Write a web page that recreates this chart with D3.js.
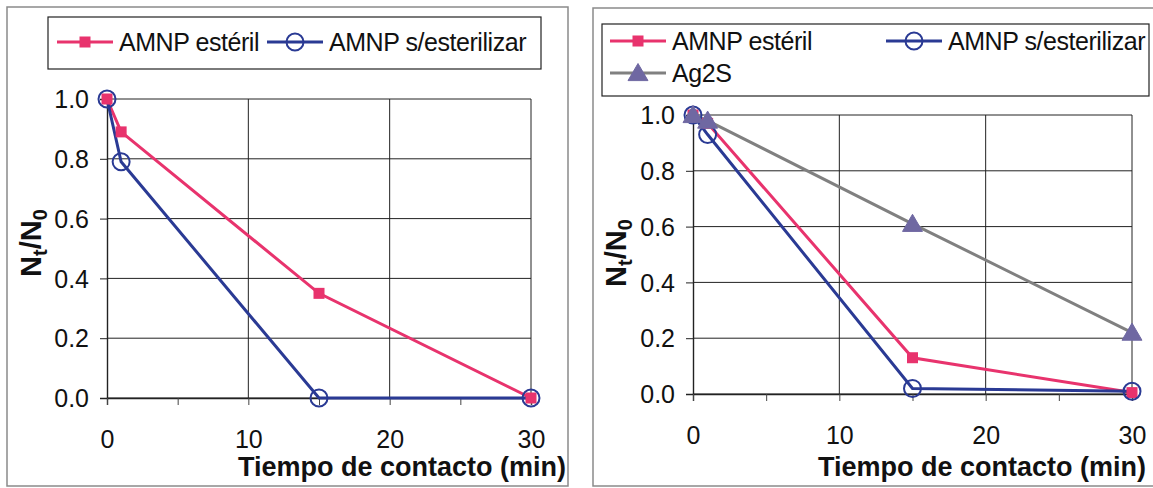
<!DOCTYPE html>
<html>
<head>
<meta charset="utf-8">
<script src="https://cdn.jsdelivr.net/npm/d3@7/dist/d3.min.js"></script>
<style>
  html, body { margin: 0; padding: 0; background: #fff; }
  svg { display: block; }
  text { font-family: "Liberation Sans", Arial, sans-serif; fill: #111; }
</style>
</head>
<body>
<svg id="chart" width="1153" height="488"></svg>
<script>
// Contact time (min)
const times = [0, 1, 15, 30];

// Left panel: survival ratio Nt/N0
const leftEsteril = [1.0, 0.89, 0.35, 0.0];
const leftSinEsterilizar = [1.0, 0.79, 0.0, 0.0];

// Right panel: survival ratio Nt/N0
const rightEsteril = [1.0, 0.97, 0.13, 0.005];
const rightSinEsterilizar = [1.0, 0.93, 0.02, 0.01];
const rightAg2S = [1.0, 0.98, 0.61, 0.22];

// Axis ticks
const yTicks = [0, 0.2, 0.4, 0.6, 0.8, 1.0];
const xTicks = [0, 10, 20, 30];
const xMinorTicks = [0, 5, 10, 15, 20, 25, 30];

const seriesNames = ["AMNP estéril", "AMNP s/esterilizar", "Ag2S"];
const xTitle = "Tiempo de contacto (min)";

const styles = {
  "AMNP estéril": { color: "#e8336d", marker: "square" },
  "AMNP s/esterilizar": { color: "#2a3a94", marker: "circle" },
  "Ag2S": { color: "#808080", marker: "triangle", fill: "#6f68a2" }
};

const svg = d3.select("#chart");

function drawMarker(g, type, x, y, st) {
  if (type === "square") {
    g.append("rect").attr("x", x - 5.5).attr("y", y - 5.5).attr("width", 11).attr("height", 11)
      .attr("fill", st.color);
  } else if (type === "circle") {
    g.append("circle").attr("cx", x).attr("cy", y).attr("r", 8.5)
      .attr("fill", "none").attr("stroke", st.color).attr("stroke-width", 2);
  } else if (type === "triangle") {
    const s = 9.5;
    g.append("path")
      .attr("d", `M${x},${y - s}L${x + s * 1.05},${y + s * 0.8}L${x - s * 1.05},${y + s * 0.8}Z`)
      .attr("fill", st.fill).attr("stroke", st.fill).attr("stroke-width", 1);
  }
}

function panel(cfg) {
  const g = svg.append("g");

  // outer frame
  g.append("rect").attr("x", cfg.frame[0]).attr("y", cfg.frame[1])
    .attr("width", cfg.frame[2]).attr("height", cfg.frame[3])
    .attr("fill", "none").attr("stroke", "#8a8a8a").attr("stroke-width", 1.5);

  const x = d3.scaleLinear().domain([0, 30]).range([cfg.plot[0], cfg.plot[1]]);
  const y = d3.scaleLinear().domain([0, 1]).range([cfg.plot[3], cfg.plot[2]]);

  // horizontal gridlines
  g.append("g").selectAll("line").data(yTicks).join("line")
    .attr("x1", x(0)).attr("x2", x(30))
    .attr("y1", d => y(d)).attr("y2", d => y(d))
    .attr("stroke", "#222").attr("stroke-width", 1);
  // vertical gridlines + right border
  g.append("g").selectAll("line").data(xTicks.filter(d => d > 0)).join("line")
    .attr("x1", d => x(d)).attr("x2", d => x(d))
    .attr("y1", y(1)).attr("y2", y(0))
    .attr("stroke", "#222").attr("stroke-width", 1);

  // y axis
  const yAxis = d3.axisLeft(y).tickValues(yTicks).tickFormat(d3.format(".1f"))
    .tickSize(7).tickPadding(11);
  const ya = g.append("g").attr("transform", `translate(${x(0)},0)`).call(yAxis);
  ya.select(".domain").attr("stroke", "#222").attr("stroke-width", 1.4);
  ya.selectAll(".tick line").attr("stroke", "#222");
  ya.selectAll("text").attr("font-size", 25).attr("font-family", "Liberation Sans, Arial, sans-serif")
    .attr("fill", "#111").attr("dy", "0.35em");

  // x axis
  const xAxis = d3.axisBottom(x).tickValues(xMinorTicks)
    .tickFormat(d => xTicks.includes(d) ? d : "").tickSize(7).tickPadding(25);
  const xa = g.append("g").attr("transform", `translate(0,${y(0)})`).call(xAxis);
  xa.select(".domain").attr("stroke", "#222").attr("stroke-width", 1.4);
  xa.selectAll(".tick line").attr("stroke", "#444");
  xa.selectAll("text").attr("font-size", 25).attr("font-family", "Liberation Sans, Arial, sans-serif")
    .attr("fill", "#111");

  // axis titles
  g.append("text").attr("x", cfg.xTitle[0]).attr("y", cfg.xTitle[1])
    .attr("text-anchor", "end").attr("font-size", 27).attr("font-weight", "bold")
    .text(xTitle);
  const yt = g.append("text")
    .attr("transform", `translate(${cfg.yTitle[0]},${cfg.yTitle[1]}) rotate(-90)`)
    .attr("text-anchor", "middle").attr("font-size", 29).attr("font-weight", "bold");
  yt.append("tspan").text("N");
  yt.append("tspan").attr("font-size", 20).attr("dy", 6).text("t");
  yt.append("tspan").attr("dy", -6).text("/N");
  yt.append("tspan").attr("font-size", 20).attr("dy", 6).text("0");

  // series
  const line = d3.line().x(d => x(d[0])).y(d => y(d[1]));
  cfg.series.forEach(s => {
    const st = styles[s.name];
    const pts = times.map((t, i) => [t, s.values[i]]);
    g.append("path").datum(pts).attr("d", line)
      .attr("fill", "none").attr("stroke", st.color).attr("stroke-width", 3);
  });
  cfg.series.forEach(s => {
    const st = styles[s.name];
    times.forEach((t, i) => drawMarker(g, st.marker, x(t), y(s.values[i]), st));
  });

  // legend
  const L = cfg.legend;
  g.append("rect").attr("x", L.box[0]).attr("y", L.box[1]).attr("width", L.box[2]).attr("height", L.box[3])
    .attr("fill", "#fff").attr("stroke", "#222").attr("stroke-width", 1.2);
  L.items.forEach((it, i) => {
    const s = cfg.series[i];
    const st = styles[s.name];
    g.append("line").attr("x1", it[0]).attr("x2", it[0] + 56).attr("y1", it[1]).attr("y2", it[1])
      .attr("stroke", st.color).attr("stroke-width", 3);
    drawMarker(g, st.marker, it[0] + 28, it[1], st);
    g.append("text").attr("x", it[0] + 62).attr("y", it[1]).attr("dy", "0.35em")
      .attr("font-size", 25).attr("letter-spacing", -0.45).text(s.name);
  });
}

panel({
  frame: [7, 7, 561, 479],
  plot: [107, 531, 99, 398],
  xTitle: [566, 476],
  yTitle: [41, 243],
  legend: {
    box: [48, 17, 493, 52],
    items: [[57, 42], [267, 42]]
  },
  series: [
    { name: seriesNames[0], values: leftEsteril },
    { name: seriesNames[1], values: leftSinEsterilizar }
  ]
});

panel({
  frame: [593, 8, 565, 478],
  plot: [693, 1132, 115, 394],
  xTitle: [1146, 476],
  yTitle: [626, 253],
  legend: {
    box: [602, 24, 547, 72],
    items: [[610, 41], [886, 41], [610, 73]]
  },
  series: [
    { name: seriesNames[0], values: rightEsteril },
    { name: seriesNames[1], values: rightSinEsterilizar },
    { name: seriesNames[2], values: rightAg2S }
  ]
});
</script>
</body>
</html>
